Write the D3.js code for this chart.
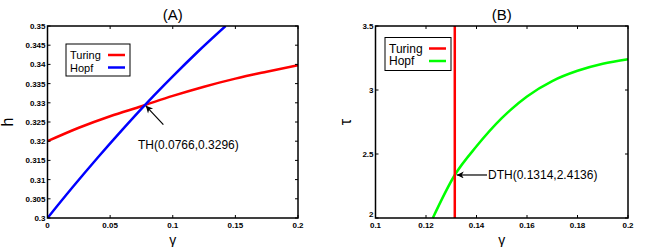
<!DOCTYPE html>
<html>
<head>
<meta charset="utf-8">
<script src="https://cdn.jsdelivr.net/npm/d3@7"></script>
<style>
  body { margin: 0; background: #fff; }
  text { font-family: Arial, "Liberation Sans", sans-serif; }
</style>
</head>
<body>
<div id="chart"></div>
<script>
// panel A data
const gammaTuringA = [0, 0.025, 0.05, 0.075, 0.1, 0.125, 0.15, 0.175, 0.2];
const hTuringA = [0.3200, 0.3235, 0.3265, 0.3291, 0.3318, 0.3342, 0.3363, 0.3381, 0.3398];
const gammaHopfA = [0, 0.02, 0.04, 0.06, 0.08, 0.1, 0.12, 0.1422];
const hHopfA = [0.3, 0.3080, 0.3157, 0.3231, 0.3302, 0.3369, 0.3433, 0.35];
const xTicksA = [0, 0.05, 0.1, 0.15, 0.2];
const yTicksA = [0.3, 0.305, 0.31, 0.315, 0.32, 0.325, 0.33, 0.335, 0.34, 0.345, 0.35];

// panel B data
const gammaTuringB = 0.1314;
const gammaHopfB = [0.1227, 0.1314, 0.14, 0.15, 0.16, 0.17, 0.18, 0.19, 0.2];
const tauHopfB = [2.0, 2.336, 2.56, 2.78, 2.95, 3.07, 3.15, 3.205, 3.24];
const xTicksB = [0.1, 0.12, 0.14, 0.16, 0.18, 0.2];
const yTicksB = [2, 2.5, 3, 3.5];

const width = 648, height = 247;

const svg = d3.select("#chart")
  .append("svg")
  .attr("width", width)
  .attr("height", height);

const defs = svg.append("defs");
defs.append("marker")
  .attr("id", "arrow")
  .attr("viewBox", "0 0 10 10")
  .attr("refX", 10).attr("refY", 5)
  .attr("markerWidth", 9).attr("markerHeight", 7)
  .attr("markerUnits", "userSpaceOnUse")
  .attr("orient", "auto")
  .append("path")
  .attr("d", "M0,0 L10,5 L0,10 L3,5 Z")
  .attr("fill", "#000");

function fmt(v) { return String(+v.toFixed(4)); }

// draws frame, inward ticks and tick labels
function panel(x, y, xTicks, yTicks, title, ylab, ylabOff) {
  const g = svg.append("g");
  const [x0, x1] = x.range();
  const [y0, y1] = y.range();
  const tl = 3;

  xTicks.forEach(t => {
    g.append("line").attr("x1", x(t)).attr("x2", x(t)).attr("y1", y0).attr("y2", y0 - tl)
      .attr("stroke", "#000");
    g.append("line").attr("x1", x(t)).attr("x2", x(t)).attr("y1", y1).attr("y2", y1 + tl)
      .attr("stroke", "#000");
    g.append("text").attr("x", x(t)).attr("y", y0 + 10)
      .attr("text-anchor", "middle").attr("font-size", 8).attr("font-weight", "bold")
      .text(fmt(t));
  });
  yTicks.forEach(t => {
    g.append("line").attr("x1", x0).attr("x2", x0 + tl).attr("y1", y(t)).attr("y2", y(t))
      .attr("stroke", "#000");
    g.append("line").attr("x1", x1).attr("x2", x1 - tl).attr("y1", y(t)).attr("y2", y(t))
      .attr("stroke", "#000");
    g.append("text").attr("x", x0 - 2).attr("y", y(t) + (t === yTicks[0] && xTicks[0] !== 0 ? -1 : 3))
      .attr("text-anchor", "end").attr("font-size", 8).attr("font-weight", "bold")
      .text(fmt(t));
  });

  g.append("rect").attr("x", x0).attr("y", y1).attr("width", x1 - x0).attr("height", y0 - y1)
    .attr("fill", "none").attr("stroke", "#000").attr("stroke-width", 1.5);

  g.append("text").attr("x", (x0 + x1) / 2).attr("y", 20)
    .attr("text-anchor", "middle").attr("font-size", 15).text(title);
  g.append("text").attr("x", (x0 + x1) / 2).attr("y", 245)
    .attr("text-anchor", "middle").attr("font-size", 14).text("γ");
  g.append("text")
    .attr("transform", `translate(${x0 - ylabOff},${(y0 + y1) / 2}) rotate(-90)`)
    .attr("text-anchor", "middle").attr("font-size", 16).text(ylab);
  return g;
}

function legend(bx, by, bw, bh, fs, items) {
  const g = svg.append("g");
  g.append("rect").attr("x", bx).attr("y", by).attr("width", bw).attr("height", bh)
    .attr("fill", "#fff").attr("stroke", "#000").attr("stroke-width", 1);
  items.forEach((it, i) => {
    const yy = by + 11 + i * 12.5;
    g.append("text").attr("x", bx + 4).attr("y", yy + 4).attr("font-size", fs).text(it.name);
    g.append("line").attr("x1", bx + bw - 22).attr("x2", bx + bw - 5).attr("y1", yy).attr("y2", yy)
      .attr("stroke", it.color).attr("stroke-width", 2.5);
  });
}

// ---- (A)
const xA = d3.scaleLinear().domain([0, 0.2]).range([47.5, 298]);
const yA = d3.scaleLinear().domain([0.3, 0.35]).range([218, 26]);

svg.append("defs").append("clipPath").attr("id", "clipA")
  .append("rect").attr("x", 47.5).attr("y", 26).attr("width", 250.5).attr("height", 192);

const lineA = d3.line().x(d => xA(d[0])).y(d => yA(d[1])).curve(d3.curveMonotoneX);

svg.append("path")
  .attr("d", lineA(d3.zip(gammaTuringA, hTuringA)))
  .attr("fill", "none").attr("stroke", "#ff0000").attr("stroke-width", 2.5)
  .attr("clip-path", "url(#clipA)");
svg.append("path")
  .attr("d", lineA(d3.zip(gammaHopfA, hHopfA)))
  .attr("fill", "none").attr("stroke", "#0000ff").attr("stroke-width", 2.5)
  .attr("clip-path", "url(#clipA)");

panel(xA, yA, xTicksA, yTicksA, "(A)", "h", 35);
legend(66, 44, 64, 32, 11, [{name: "Turing", color: "#ff0000"}, {name: "Hopf", color: "#0000ff"}]);

svg.append("line")
  .attr("x1", xA(0.0925)).attr("y1", yA(0.3243))
  .attr("x2", xA(0.0785)).attr("y2", yA(0.3292))
  .attr("stroke", "#000").attr("stroke-width", 1.2).attr("marker-end", "url(#arrow)");
svg.append("text").attr("x", 138).attr("y", 149).attr("font-size", 12)
  .text("TH(0.0766,0.3296)");

// ---- (B)
const xB = d3.scaleLinear().domain([0.1, 0.2]).range([375.5, 628]);
const yB = d3.scaleLinear().domain([2, 3.5]).range([218, 26]);

const lineB = d3.line().x(d => xB(d[0])).y(d => yB(d[1])).curve(d3.curveMonotoneX);

svg.append("path")
  .attr("d", lineB(d3.zip(gammaHopfB, tauHopfB)))
  .attr("fill", "none").attr("stroke", "#00ff00").attr("stroke-width", 2.5);
svg.append("line")
  .attr("x1", xB(gammaTuringB)).attr("x2", xB(gammaTuringB))
  .attr("y1", yB(2)).attr("y2", yB(3.5))
  .attr("stroke", "#ff0000").attr("stroke-width", 2.5);

panel(xB, yB, xTicksB, yTicksB, "(B)", "τ", 25);
legend(385, 37.5, 66, 33, 12, [{name: "Turing", color: "#ff0000"}, {name: "Hopf", color: "#00ff00"}]);

svg.append("line")
  .attr("x1", 487).attr("y1", yB(2.336))
  .attr("x2", xB(gammaTuringB) + 2).attr("y2", yB(2.336))
  .attr("stroke", "#000").attr("stroke-width", 1.2).attr("marker-end", "url(#arrow)");
svg.append("text").attr("x", 488).attr("y", yB(2.336) + 4).attr("font-size", 12)
  .text("DTH(0.1314,2.4136)");
</script>
</body>
</html>
